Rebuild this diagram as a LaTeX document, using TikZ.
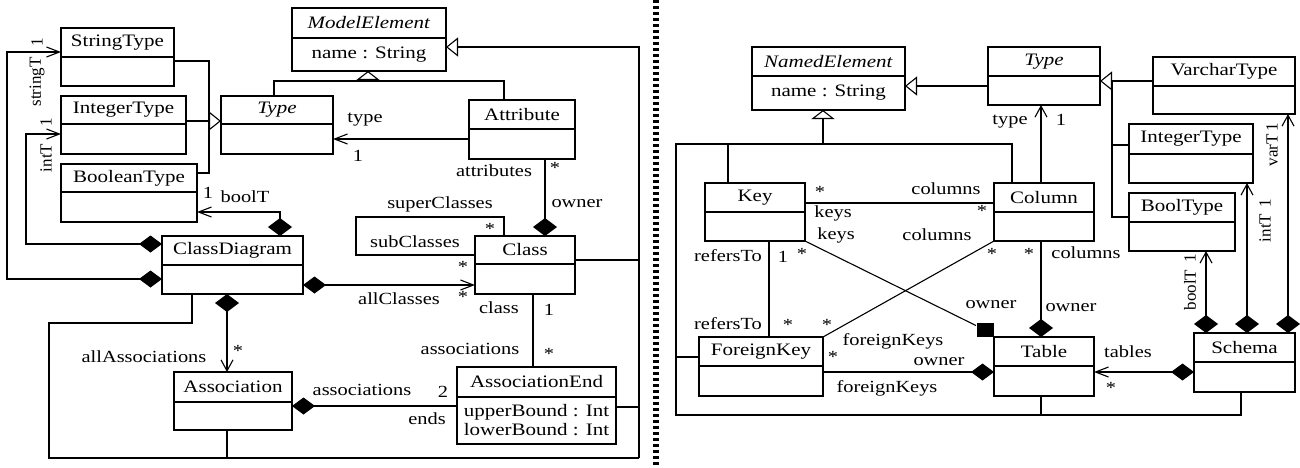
\documentclass[tikz,border=0pt]{standalone}
\usepackage{fontspec}
\setmainfont{Liberation Serif}
\usetikzlibrary{arrows.meta}

\tikzset{
  dh/.tip={Diamond[length=23pt,width=17pt]},
  dv/.tip={Diamond[length=18pt,width=24pt]},
  ah/.tip={Straight Barb[length=13pt,width=10pt]},
  av/.tip={Straight Barb[length=11pt,width=12pt]},
  th/.tip={Triangle[open,length=12pt,width=19pt]},
  tv/.tip={Triangle[open,length=9pt,width=23pt]},
  umlbox/.style={draw, inner sep=0pt, outer sep=0pt},
  txt/.style={font=\fontsize{17.5}{19}\selectfont, inner sep=0pt, xscale=1.2, align=center},
  lbl/.style={font=\fontsize{17}{19}\selectfont, inner sep=0pt, xscale=1.2},
  vlbl/.style={font=\fontsize{17}{19}\selectfont, inner sep=0pt, rotate=90},
}

% nom, x1, y1, x2, y2, separation, titre, attributs
\newcommand{\umlclass}[8]{%
  \node[umlbox, minimum width={(#4-#2)*1pt}, minimum height={(#5-#3)*1pt}, anchor=north west] (#1) at (#2,#3) {};
  \draw (#2,#6) -- (#4,#6);
  \node[txt] at ({(#2+#4)/2},{(#3+#6)/2}) {#7};
  \node[txt] at ({(#2+#4)/2},{(#6+#5)/2}) {#8};
}

\begin{document}
\begin{tikzpicture}[x=1pt, y=-1pt, line width=1.1pt]
    \useasboundingbox (0,0) rectangle (1300,467);

    % Séparation
    \draw[line width=6pt, dash pattern=on 3pt off 3pt] (656,0) -- (656,467);

    % Classes (gauche)
    \umlclass{melem}{292}{8}{446}{71}{38}{\textit{ModelElement}}{name : String}
    \umlclass{strt}{61}{28}{174}{86}{57}{StringType}{}
    \umlclass{intt}{61}{96}{186}{154}{124}{IntegerType}{}
    \umlclass{boolt}{61}{164}{197}{222}{192}{BooleanType}{}
    \umlclass{typel}{221}{96}{333}{154}{124}{\textit{Type}}{}
    \umlclass{attr}{469}{100}{575}{159}{129}{Attribute}{}
    \umlclass{cdiag}{162}{236}{303}{294}{265}{ClassDiagram}{}
    \umlclass{cls}{475}{236}{575}{294}{264}{Class}{}
    \umlclass{asso}{174}{372}{292}{430}{402}{Association}{}
    \umlclass{aend}{457}{367}{616}{444}{397}{AssociationEnd}{upperBound : Int\\lowerBound : Int}

    % Héritages (gauche)
    \draw (typel.north -| 274,0) -- (274,81) -| (attr.north -| 504,0);
    \draw[-tv] (368,81) -- (melem.south -| 368,0);
    \draw (strt.east |- 0,61) -| (209,173) -- (boolt.east |- 0,173);
    \draw[-th] (intt.east |- 0,121) -- (typel.west |- 0,121);
    \draw[-th] (639,458) |- (melem.east |- 0,47);
    \draw (cls.east |- 0,260) -- (639,260);
    \draw (aend.east |- 0,407) -- (639,407);
    \draw (asso.south -| 227,0) -- (227,458);
    \draw (cdiag.south -| 192,0) |- (49,323) |- (639,458);

    % Associations (gauche)
    \draw[dh-ah] (cdiag.west |- 0,279) -| (7,52) -- (strt.west |- 0,52);
    \draw[dh-ah] (cdiag.west |- 0,244) -| (26,134) -- (intt.west |- 0,134);
    \draw[dv-ah] (cdiag.north -| 280,0) |- (boolt.east |- 0,212);
    \draw[dh-ah] (cdiag.east |- 0,285) -- (cls.west |- 0,285);
    \draw[dv-av] (cdiag.south -| 227,0) -- (asso.north -| 227,0);
    \draw (cls.west |- 0,255) -| (356,217) -| (cls.north -| 504,0);
    \draw[-ah] (attr.west |- 0,139) -- (typel.east |- 0,139);
    \draw[dv-] (cls.north -| 545,0) -- (attr.south -| 545,0);
    \draw (cls.south -| 533,0) -- (aend.north -| 533,0);
    \draw[dh-] (asso.east |- 0,406) -- (aend.west |- 0,406);

    % Rôles (gauche)
    \node[vlbl] at (37,82) {stringT};
    \node[vlbl] at (37,42) {1};
    \node[vlbl] at (46,158) {intT};
    \node[vlbl] at (46,122) {1};
    \node[lbl] at (208,193) {1};
    \node[lbl] at (245,197) {boolT};
    \node[lbl] at (365,120) {type};
    \node[lbl] at (358,156) {1};
    \node[lbl] at (494,171) {attributes};
    \node[lbl] at (555,168) {*};
    \node[lbl] at (577,204) {owner};
    \node[lbl] at (440,204) {superClasses};
    \node[lbl] at (490,229) {*};
    \node[lbl] at (415,242) {subClasses};
    \node[lbl] at (463,267) {*};
    \node[lbl] at (399,299) {allClasses};
    \node[lbl] at (463,297) {*};
    \node[lbl] at (499,308) {class};
    \node[lbl] at (549,310) {1};
    \node[lbl] at (470,349) {associations};
    \node[lbl] at (549,354) {*};
    \node[lbl] at (362,390) {associations};
    \node[lbl] at (443,392) {2};
    \node[lbl] at (427,419) {ends};
    \node[lbl] at (144,357) {allAssociations};
    \node[lbl] at (238,351) {*};

    % Classes (droite)
    \umlclass{nelem}{752}{47}{905}{110}{76}{\textit{NamedElement}}{name : String}
    \umlclass{typer}{988}{47}{1100}{105}{76}{\textit{Type}}{}
    \umlclass{varch}{1153}{57}{1295}{114}{86}{VarcharType}{}
    \umlclass{intty}{1129}{124}{1253}{183}{154}{IntegerType}{}
    \umlclass{boolty}{1129}{193}{1235}{251}{222}{BoolType}{}
    \umlclass{key}{705}{183}{805}{241}{212}{Key}{}
    \umlclass{col}{994}{183}{1094}{241}{212}{Column}{}
    \umlclass{fkey}{699}{337}{823}{396}{366}{ForeignKey}{}
    \umlclass{table}{994}{337}{1094}{396}{366}{Table}{}
    \umlclass{schema}{1194}{333}{1295}{392}{362}{Schema}{}
    \node[fill, inner sep=0pt, minimum width=17pt, minimum height=14pt] (ownsq) at (985,330) {};

    % Héritages (droite)
    \draw[-tv] (823,144) -- (nelem.south -| 823,0);
    \draw (key.north -| 728,0) |- (1012,144) -- (col.north -| 1012,0);
    \draw (728,144) -| (676,415) -| (schema.south -| 1241,0);
    \draw (fkey.west |- 0,357) -- (676,357);
    \draw (table.south -| 1041,0) -- (1041,415);
    \draw[-th] (typer.west |- 0,86) -- (nelem.east |- 0,86);
    \draw[-th] (varch.west |- 0,81) -- (typer.east |- 0,81);
    \draw (1112,81) |- (boolty.west |- 0,217);
    \draw (intty.west |- 0,145) -- (1112,145);

    % Associations (droite)
    \draw[-av] (col.north -| 1041,0) -- (typer.south -| 1041,0);
    \draw (key.east |- 0,203) -- (col.west |- 0,203);
    \draw (key.south east) -- (ownsq);
    \draw (col.south west) -- (fkey.north east);
    \draw (key.south -| 769,0) -- (fkey.north -| 769,0);
    \draw[dh-] (table.west |- 0,372) -- (fkey.east |- 0,372);
    \draw[dv-] (table.north -| 1041,0) -- (col.south -| 1041,0);
    \draw[dh-ah] (schema.west |- 0,372) -- (table.east |- 0,372);
    \draw[dv-av] (schema.north -| 1206,0) -- (boolty.south -| 1206,0);
    \draw[dv-av] (schema.north -| 1247,0) -- (intty.south -| 1247,0);
    \draw[dv-av] (schema.north -| 1288,0) -- (varch.south -| 1288,0);

    % Rôles (droite)
    \node[lbl] at (1010,122) {type};
    \node[lbl] at (1061,120) {1};
    \node[lbl] at (820,192) {*};
    \node[lbl] at (946,189) {columns};
    \node[lbl] at (833,213) {keys};
    \node[lbl] at (982,211) {*};
    \node[lbl] at (836,235) {keys};
    \node[lbl] at (937,235) {columns};
    \node[lbl] at (728,256) {refersTo};
    \node[lbl] at (783,257) {1};
    \node[lbl] at (802,254) {*};
    \node[lbl] at (992,254) {*};
    \node[lbl] at (1029,254) {*};
    \node[lbl] at (1086,253) {columns};
    \node[lbl] at (991,305) {owner};
    \node[lbl] at (1071,308) {owner};
    \node[lbl] at (728,324) {refersTo};
    \node[lbl] at (788,325) {*};
    \node[lbl] at (827,325) {*};
    \node[lbl] at (893,341) {foreignKeys};
    \node[lbl] at (833,357) {*};
    \node[lbl] at (939,362) {owner};
    \node[lbl] at (887,388) {foreignKeys};
    \node[lbl] at (1128,352) {tables};
    \node[lbl] at (1111,388) {*};
    \node[vlbl] at (1190,290) {boolT};
    \node[vlbl] at (1190,258) {1};
    \node[vlbl] at (1265,228) {intT};
    \node[vlbl] at (1265,203) {1};
    \node[vlbl] at (1272,150) {varT};
    \node[vlbl] at (1272,127) {1};
\end{tikzpicture}
\end{document}
